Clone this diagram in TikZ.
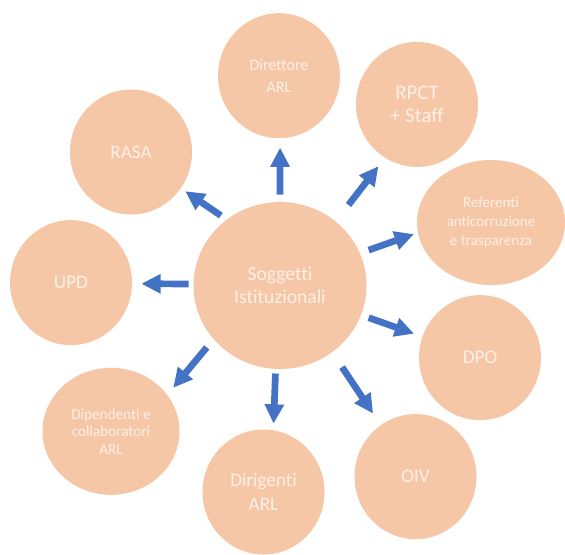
\documentclass[tikz,border=0pt]{standalone}
\usepackage{fontspec}
\setmainfont{Carlito}[Ligatures=NoCommon]
\usetikzlibrary{arrows.meta,shapes.geometric}
\definecolor{peach}{HTML}{F6C7A6}
\definecolor{pale}{HTML}{FDF0E7}
\definecolor{arrowblue}{HTML}{4472C4}

\begin{document}
\begin{tikzpicture}[x=0.5pt,y=-0.5pt,
	bubble/.style={ellipse, fill=peach, text=pale, inner sep=0pt, align=center,
		minimum width=61pt, minimum height=62.5pt},
	link/.style={color=arrowblue, line width=3.35pt,
		-{Triangle[length=9.6pt,width=9.2pt]}}]

	\useasboundingbox (0,0) rectangle (565,554);

	%central node
	\node[bubble, minimum width=86.5pt, minimum height=83.5pt, font=\fontsize{9.8}{11.7}\selectfont] (sog) at (280,285.5){Soggetti\\Istituzionali};

	%outer nodes
	\node[bubble, font=\fontsize{8}{10.8}\selectfont] (dir) at (279,75.7){Direttore\\ARL};
	\node[bubble, font=\fontsize{10.4}{11.8}\selectfont] (rpct) at (417,104.4){RPCT\\+ Staff};
	\node[bubble, minimum width=74pt, font=\fontsize{7.5}{9.3}\selectfont] (ref) at (491,222.5){Referenti\\anticorruzione\\e trasparenza};
	\node[bubble, font=\fontsize{9.6}{11.8}\selectfont] (dpo) at (480,357.6){DPO};
	\node[bubble, font=\fontsize{9.6}{11.8}\selectfont] (oiv) at (415.5,476.6){OIV};
	\node[bubble, font=\fontsize{9.6}{11.8}\selectfont] (dirig) at (263.5,492){Dirigenti\\ARL};
	\node[bubble, minimum width=68.5pt, minimum height=63.5pt, font=\fontsize{7.6}{8.8}\selectfont] (dip) at (111,431.3){Dipendenti e\\collaboratori\\ARL};
	\node[bubble, font=\fontsize{9.6}{11.8}\selectfont] (upd) at (71,282.6){UPD};
	\node[bubble, font=\fontsize{9.6}{11.8}\selectfont] (rasa) at (131,152){RASA};

	%arrows
	\draw[link, shorten <=3.5pt, shorten >=4.5pt] (sog.90) -- (dir.-89);
	\draw[link, shorten <=10.3pt, shorten >=5.2pt] (sog.49.8) -- (rpct.-121.7);
	\draw[link, shorten <=4.5pt, shorten >=2pt] (sog.22) -- (ref.-172.5);
	\draw[link, shorten <=3.9pt, shorten >=4.3pt] (sog.-20.3) -- (dpo.160.7);
	\draw[link, shorten <=8.8pt, shorten >=6.8pt] (sog.-52) -- (oiv.124.2);
	\draw[link, shorten <=2.1pt, shorten >=3.2pt] (sog.-93.9) -- (dirig.81.2);
	\draw[link, shorten <=5.2pt, shorten >=4.5pt] (sog.-141.6) -- (dip.33.9);
	\draw[link, shorten <=2.2pt, shorten >=4.5pt] (sog.179.4) -- (upd.-1.6);
	\draw[link, shorten <=3.4pt, shorten >=2.5pt] (sog.129.4) -- (rasa.-36.7);

\end{tikzpicture}
\end{document}
